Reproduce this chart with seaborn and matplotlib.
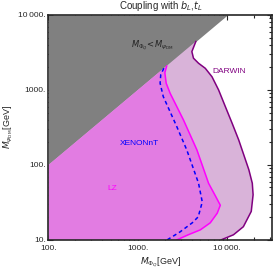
import matplotlib
matplotlib.use("Agg")
import matplotlib.pyplot as plt
import seaborn as sns
import numpy as np
from matplotlib.ticker import FixedLocator, FixedFormatter, LogLocator, NullFormatter

# diagonal M_Phi = M_psi
diag = [100, 10000]

# DARWIN reach (from diagonal down to the bottom axis)
darwin_x = [4450, 4010, 4180, 4760, 5660, 6730, 7980, 9500, 11300, 13400, 17400, 19000, 19400, 18500, 15100, 11700, 8500]
darwin_y = [4450, 3245, 2650, 2270, 1945, 1500, 1000, 598, 360, 215, 86, 57, 40, 24, 15, 11.7, 10]

# LZ exclusion
lz_x = [2100, 2000, 2070, 2290, 3230, 4570, 6160, 7400, 8340, 7700, 6440, 4980, 3650, 2720]
lz_y = [2100, 1700, 1230, 904, 398, 158, 57, 38, 29, 22.7, 16.9, 13.6, 11.7, 10]

# XENONnT
xe_x = [1950, 1800, 1770, 1920, 2720, 3520, 4760, 5240, 5240, 4720, 4050, 2960, 2120]
xe_y = [1950, 1600, 1230, 815, 324, 158, 57, 37.4, 27.5, 20.3, 16.9, 12.8, 10]

ticks = [100, 1000, 10000]
tick_labels = ["100.", "1000.", "10\u2009000."]
yticks = [10, 100, 1000, 10000]
ytick_labels = ["10.", "100.", "1000.", "10\u2009000."]

sns.set_style("ticks")
plt.rcParams["font.family"] = ["Liberation Sans", "DejaVu Sans"]
plt.rcParams["mathtext.fontset"] = "dejavusans"

fig = plt.figure(figsize=(2.74, 2.72), dpi=100)
ax = fig.add_axes([0.177, 0.118, 0.816, 0.827])
ax.set_xscale("log")
ax.set_yscale("log")

# regions
ax.fill_between(diag, diag, [10000, 10000], color="#808080", lw=0, zorder=1)
ax.fill(list(darwin_x) + [100, 100], list(darwin_y) + [10, 100], color="#D9B3D9", lw=0, zorder=1)
ax.fill(list(lz_x) + [100, 100], list(lz_y) + [10, 100], color="#E27CE2", lw=0, zorder=2)

sns.lineplot(x=darwin_x, y=darwin_y, sort=False, color="#800080", lw=1.1, ax=ax, zorder=3)
sns.lineplot(x=lz_x, y=lz_y, sort=False, color="#FF00FF", lw=1.1, ax=ax, zorder=3)
sns.lineplot(x=xe_x, y=xe_y, sort=False, color="#0000FF", lw=1.1, ax=ax, zorder=3)
ax.lines[-1].set_dashes([2.5, 2])

ax.text(1435, 3900, r"$M_{\Phi_Q}\!<\!M_{\psi_{\rm DM}}$", fontsize=6, ha="center", va="center", color="#222222")
ax.text(10400, 1740, "DARWIN", fontsize=6, ha="center", va="center", color="#800080")
ax.text(1030, 195, "XENONnT", fontsize=6, ha="center", va="center", color="#0000FF")
ax.text(511, 49, "LZ", fontsize=6, ha="center", va="center", color="#FF00FF")

ax.set_xlim(100, 10 ** 4.5)
ax.set_ylim(10, 10000)
ax.xaxis.set_major_locator(FixedLocator(ticks))
ax.xaxis.set_major_formatter(FixedFormatter(tick_labels))
ax.yaxis.set_major_locator(FixedLocator(yticks))
ax.yaxis.set_major_formatter(FixedFormatter(ytick_labels))
for a in (ax.xaxis, ax.yaxis):
    a.set_minor_locator(LogLocator(base=10, subs=np.arange(2, 10)))
    a.set_minor_formatter(NullFormatter())
ax.tick_params(which="both", direction="in", top=True, right=True, labelsize=6, pad=2, width=0.8)
ax.tick_params(axis="x", which="major", pad=3.5)
ax.tick_params(which="major", length=3.5)
ax.tick_params(which="minor", length=2)
for s in ax.spines.values():
    s.set_linewidth(1.2)
    s.set_zorder(5)

ax.set_xlabel(r"$M_{\Phi_Q}$[GeV]", fontsize=6.5, labelpad=3)
ax.set_ylabel(r"$M_{\psi_{\rm DM}}$[GeV]", fontsize=6.5, labelpad=2)
ax.set_title(r"Coupling with $b_L$,$t_L$", fontsize=7, pad=4)

fig.savefig("out.png", dpi=100)
